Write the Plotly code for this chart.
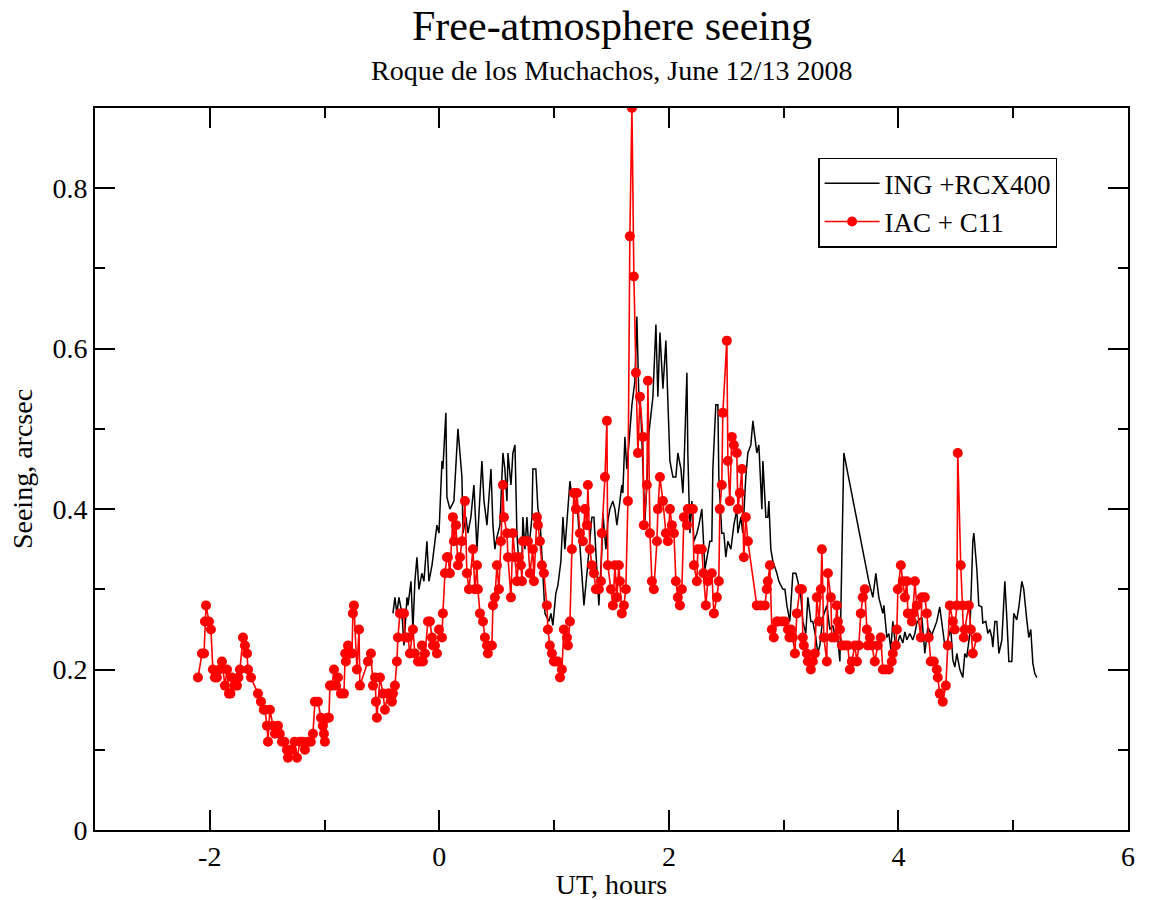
import plotly.graph_objects as go

# ING + RCX400 (black line)
ing_ut = [-0.404,-0.387,-0.370,-0.352,-0.326,-0.308,-0.282,-0.273,-0.247,-0.230,-0.213,-0.195,-0.178,-0.152,-0.134,-0.108,-0.091,-0.064,-0.038,-0.021,-0.003,
          0.023,0.031,0.057,0.066,0.092,0.127,0.162,0.197,0.206,0.232,0.249,0.275,0.301,0.328,0.371,0.389,0.415,0.450,0.467,0.484,0.502,0.528,0.554,0.571,0.589,0.598,
          0.624,0.641,0.659,0.676,0.693,0.720,0.728,0.746,0.763,0.780,0.807,0.815,0.841,0.859,0.876,0.902,0.920,0.937,0.955,0.972,0.989,1.015,1.033,1.059,1.077,1.094,
          1.112,1.138,1.155,1.181,1.199,1.216,1.242,1.260,1.286,1.303,1.329,1.347,1.373,1.390,1.416,1.425,1.451,1.468,1.486,1.512,1.530,1.547,1.573,1.590,1.599,1.617,
          1.634,1.660,1.678,1.704,1.721,1.739,1.756,1.774,1.791,1.808,1.826,1.861,1.887,1.904,1.922,1.948,1.974,1.991,2.009,2.035,2.061,2.078,2.105,2.122,2.131,2.157,
          2.165,2.183,2.200,2.218,2.244,2.261,2.287,2.314,2.331,2.357,2.374,2.383,2.409,2.427,2.435,2.461,2.479,2.496,2.514,2.540,2.566,2.592,2.601,2.627,2.644,2.670,
          2.688,2.714,2.732,2.749,2.766,2.784,2.810,2.819,2.845,2.862,2.871,2.888,2.906,2.941,2.958,2.993,3.011,3.028,3.054,3.080,3.106,3.124,3.150,3.167,3.193,3.211,
          3.237,3.254,3.280,3.298,3.315,3.341,3.376,3.402,3.428,3.455,3.472,3.490,3.507,3.524,3.742,3.777,3.803,3.829,3.864,3.873,3.899,3.916,3.934,3.951,3.969,3.986,
          4.012,4.038,4.056,4.073,4.099,4.125,4.143,4.160,4.178,4.204,4.230,4.256,4.291,4.317,4.334,4.360,4.386,4.404,4.430,4.456,4.474,4.491,4.509,4.535,4.561,4.578,
          4.595,4.622,4.648,4.657,4.683,4.700,4.726,4.735,4.761,4.779,4.796,4.814,4.822,4.840,4.857,4.875,4.901,4.927,4.945,4.962,4.988,5.005,5.031,5.049,5.075,5.092,
          5.118,5.136,5.153,5.171,5.188,5.206]
ing_seeing = [0.27,0.29,0.27,0.29,0.27,0.23,0.29,0.28,0.31,0.25,0.31,0.34,0.30,0.32,0.31,0.36,0.31,0.33,0.36,0.38,0.37,
              0.46,0.45,0.52,0.415,0.40,0.41,0.50,0.44,0.37,0.39,0.37,0.39,0.43,0.35,0.46,0.41,0.38,0.45,0.38,0.35,0.365,0.38,0.47,0.45,0.41,0.47,
              0.43,0.47,0.48,0.37,0.33,0.34,0.39,0.35,0.39,0.35,0.39,0.45,0.45,0.40,0.39,0.32,0.27,0.265,0.26,0.27,0.255,0.295,0.305,0.335,0.39,0.35,
              0.39,0.435,0.415,0.425,0.41,0.37,0.32,0.28,0.32,0.345,0.39,0.39,0.33,0.28,0.35,0.395,0.35,0.385,0.40,0.41,0.40,0.38,0.41,0.43,0.42,0.49,
              0.45,0.50,0.53,0.56,0.64,0.535,0.52,0.45,0.385,0.43,0.495,0.54,0.63,0.54,0.62,0.55,0.61,0.535,0.46,0.44,0.44,0.47,0.45,0.42,0.45,0.57,
              0.47,0.37,0.41,0.36,0.37,0.38,0.40,0.325,0.34,0.36,0.36,0.45,0.53,0.53,0.44,0.37,0.37,0.34,0.36,0.35,0.38,0.40,0.37,0.39,0.37,0.44,
              0.47,0.48,0.51,0.49,0.47,0.48,0.40,0.46,0.39,0.39,0.41,0.35,0.335,0.32,0.31,0.30,0.30,0.28,0.26,0.32,0.32,0.31,0.29,0.26,0.245,0.29,
              0.26,0.26,0.24,0.22,0.23,0.265,0.28,0.25,0.255,0.237,0.237,0.21,0.365,0.47,0.31,0.29,0.32,0.29,0.27,0.28,0.24,0.245,0.225,0.26,0.237,0.228,
              0.243,0.233,0.247,0.237,0.245,0.237,0.245,0.258,0.262,0.265,0.22,0.253,0.243,0.253,0.26,0.278,0.253,0.23,0.237,0.252,0.212,0.203,0.22,0.20,0.19,0.22,
              0.215,0.245,0.36,0.37,0.325,0.28,0.278,0.258,0.26,0.245,0.25,0.24,0.228,0.26,0.26,0.22,0.237,0.31,0.262,0.21,0.21,0.27,0.262,0.278,0.31,0.30,
              0.262,0.24,0.25,0.208,0.195,0.19]

# IAC + C11 (red line with markers)
iac_ut = [-2.103,-2.068,-2.050,-2.042,-2.033,-2.007,-1.990,-1.973,-1.955,-1.938,-1.915,-1.894,-1.868,-1.850,-1.833,-1.820,-1.807,-1.785,-1.763,-1.750,-1.737,
          -1.711,-1.694,-1.676,-1.667,-1.641,-1.580,-1.554,-1.530,-1.519,-1.502,-1.493,-1.476,-1.450,-1.432,-1.406,-1.390,-1.371,-1.350,-1.328,-1.319,-1.300,
          -1.284,-1.262,-1.240,-1.214,-1.190,-1.171,-1.145,-1.120,-1.101,-1.084,-1.058,-1.031,-1.015,-1.005,-0.997,-0.975,-0.962,-0.953,-0.935,-0.918,-0.900,
          -0.883,-0.857,-0.831,-0.820,-0.814,-0.796,-0.775,-0.761,-0.753,-0.744,-0.718,-0.700,-0.692,-0.622,-0.596,-0.578,-0.560,-0.552,-0.544,-0.517,-0.491,
          -0.474,-0.448,-0.430,-0.413,-0.404,-0.387,-0.370,-0.361,-0.343,-0.320,-0.308,-0.300,-0.273,-0.256,-0.230,-0.213,-0.186,-0.165,-0.152,-0.143,-0.125,
          -0.099,-0.082,-0.064,-0.056,-0.038,-0.021,-0.003,0.023,0.031,0.049,0.066,0.075,0.092,0.118,0.127,0.145,0.162,0.180,0.197,0.223,0.240,0.258,0.293,
          0.310,0.328,0.336,0.354,0.380,0.397,0.415,0.423,0.458,0.467,0.484,0.502,0.519,0.537,0.554,0.563,0.589,0.598,0.624,0.641,0.659,0.676,0.693,0.711,
          0.720,0.728,0.750,0.772,0.789,0.815,0.824,0.850,0.859,0.876,0.894,0.911,0.937,0.946,0.963,0.981,0.998,1.015,1.033,1.051,1.068,1.085,1.112,1.120,
          1.138,1.155,1.172,1.190,1.199,1.225,1.251,1.268,1.286,1.294,1.312,1.329,1.347,1.364,1.373,1.390,1.408,1.416,1.443,1.460,1.468,1.495,1.512,1.530,
          1.547,1.564,1.573,1.590,1.608,1.625,1.643,1.660,1.678,1.695,1.713,1.730,1.748,1.774,1.782,1.808,1.817,1.835,1.852,1.869,1.896,1.904,1.922,1.948,
          1.974,1.991,2.009,2.026,2.044,2.061,2.078,2.096,2.113,2.131,2.157,2.165,2.190,2.209,2.218,2.244,2.252,2.287,2.300,2.322,2.339,2.374,2.392,2.418,
          2.435,2.444,2.461,2.470,2.505,2.514,2.531,2.548,2.566,2.592,2.601,2.618,2.636,2.653,2.670,2.688,2.766,2.801,2.836,2.853,2.862,2.880,2.897,2.914,
          2.941,2.950,2.985,3.011,3.037,3.050,3.063,3.080,3.098,3.115,3.141,3.159,3.167,3.176,3.202,3.211,3.237,3.254,3.272,3.289,3.307,3.324,3.333,3.350,
          3.376,3.385,3.411,3.420,3.446,3.463,3.472,3.490,3.507,3.533,3.559,3.577,3.594,3.620,3.638,3.655,3.672,3.690,3.707,3.725,3.733,3.751,3.768,3.794,
          3.820,3.846,3.864,3.890,3.916,3.942,3.951,3.977,3.986,3.995,4.021,4.038,4.056,4.073,4.082,4.117,4.125,4.143,4.160,4.195,4.204,4.230,4.247,4.264,
          4.282,4.308,4.334,4.343,4.360,4.386,4.413,4.430,4.448,4.474,4.491,4.509,4.517,4.543,4.561,4.569,4.578,4.613,4.631,4.648,4.683]
iac_seeing = [0.19,0.22,0.22,0.26,0.28,0.26,0.25,0.20,0.19,0.19,0.20,0.21,0.18,0.20,0.17,0.17,0.19,0.18,0.18,0.19,0.20,
              0.24,0.23,0.22,0.20,0.19,0.17,0.16,0.15,0.15,0.13,0.11,0.15,0.13,0.12,0.13,0.12,0.11,0.11,0.10,0.09,0.10,
              0.10,0.11,0.09,0.11,0.11,0.10,0.11,0.11,0.12,0.16,0.16,0.14,0.13,0.12,0.11,0.14,0.14,0.18,0.18,0.20,0.18,
              0.19,0.17,0.17,0.22,0.21,0.23,0.22,0.22,0.27,0.28,0.20,0.25,0.18,0.21,0.22,0.18,0.19,0.16,0.14,0.19,0.17,
              0.15,0.17,0.17,0.16,0.17,0.18,0.21,0.24,0.27,0.27,0.27,0.24,0.24,0.22,0.25,0.22,0.21,0.21,0.23,0.21,0.22,
              0.26,0.26,0.24,0.23,0.23,0.22,0.25,0.24,0.27,0.32,0.34,0.34,0.32,0.39,0.36,0.38,0.33,0.34,0.36,0.41,0.32,0.30,0.35,
              0.30,0.33,0.30,0.27,0.26,0.24,0.23,0.22,0.23,0.28,0.29,0.33,0.30,0.36,0.43,0.39,0.37,0.34,0.29,0.37,0.34,0.31,0.34,0.33,
              0.31,0.36,0.36,0.36,0.32,0.35,0.31,0.39,0.38,0.36,0.33,0.32,0.28,0.25,0.23,0.22,0.21,0.21,0.21,0.19,0.20,0.25,0.24,0.23,
              0.26,0.35,0.42,0.40,0.42,0.37,0.36,0.40,0.38,0.43,0.35,0.33,0.32,0.30,0.30,0.30,0.31,0.37,0.44,0.51,0.33,0.30,0.28,0.33,
              0.29,0.33,0.31,0.27,0.28,0.30,0.41,0.74,0.90,0.69,0.57,0.47,0.54,0.49,0.38,0.43,0.56,0.37,0.31,0.30,0.36,0.40,0.44,0.41,
              0.37,0.36,0.40,0.38,0.37,0.31,0.29,0.28,0.30,0.39,0.38,0.40,0.40,0.40,0.33,0.31,0.35,0.35,0.32,0.28,0.31,0.32,0.27,0.29,
              0.31,0.40,0.43,0.52,0.61,0.46,0.41,0.49,0.48,0.47,0.40,0.42,0.45,0.34,0.39,0.36,0.28,0.28,0.28,0.30,0.31,0.33,0.25,0.24,
              0.26,0.26,0.26,0.26,0.25,0.24,0.25,0.24,0.22,0.27,0.30,0.30,0.24,0.23,0.22,0.21,0.20,0.21,0.22,0.29,0.26,0.30,0.35,0.24,
              0.21,0.32,0.29,0.24,0.24,0.28,0.26,0.25,0.23,0.23,0.23,0.20,0.21,0.23,0.21,0.23,0.27,0.29,0.30,0.25,0.23,0.24,0.23,0.21,
              0.23,0.24,0.20,0.20,0.20,0.21,0.22,0.23,0.25,0.30,0.33,0.31,0.29,0.31,0.27,0.26,0.27,0.31,0.28,0.24,0.29,0.29,0.27,0.24,
              0.21,0.21,0.20,0.19,0.17,0.16,0.18,0.23,0.28,0.26,0.25,0.28,0.47,0.33,0.28,0.24,0.25,0.28,0.25,0.22,0.24]

x_tick_vals = [-2, 0, 2, 4, 6]
x_tick_text = ["-2", "0", "2", "4", "6"]
y_tick_vals = [0, 0.2, 0.4, 0.6, 0.8]
y_tick_text = ["0", "0.2", "0.4", "0.6", "0.8"]

FONT = "Liberation Serif, Times New Roman, serif"

fig = go.Figure()
fig.add_trace(go.Scatter(x=ing_ut, y=ing_seeing, mode="lines", name="ING +RCX400",
                         line=dict(color="black", width=1.5)))
fig.add_trace(go.Scatter(x=iac_ut, y=iac_seeing, mode="lines+markers", name="IAC + C11",
                         line=dict(color="#ff0000", width=1.6),
                         marker=dict(color="#ff0000", size=10)))

axis_common = dict(showline=True, linecolor="black", linewidth=2, mirror="allticks",
                   ticks="inside", ticklen=20, tickwidth=2, tickcolor="black",
                   showgrid=False, zeroline=False, automargin=False,
                   tickfont=dict(family=FONT, size=28, color="black"))

fig.update_xaxes(range=[-3, 6], tickvals=x_tick_vals, ticktext=x_tick_text,
                 minor=dict(dtick=1, tick0=0, ticks="inside", ticklen=10, tickwidth=2, tickcolor="black"),
                 title=dict(text="UT, hours", font=dict(family=FONT, size=28, color="black"), standoff=8),
                 **axis_common)
fig.update_yaxes(range=[0, 0.9], tickvals=y_tick_vals, ticktext=y_tick_text,
                 minor=dict(dtick=0.1, tick0=0, ticks="inside", ticklen=10, tickwidth=2, tickcolor="black"),
                 title=dict(text="Seeing, arcsec", font=dict(family=FONT, size=28, color="black"), standoff=12),
                 **axis_common)

fig.update_layout(
    width=1149, height=900,
    margin=dict(l=95, r=21, t=108, b=70),
    plot_bgcolor="white", paper_bgcolor="white",
    font=dict(family=FONT, color="black"),
    showlegend=True,
    legend=dict(x=0.70, y=0.931, xanchor="left", yanchor="top",
                bordercolor="black", borderwidth=1.5, bgcolor="white",
                font=dict(family=FONT, size=27, color="black"),
                itemwidth=55, tracegroupgap=0),
    annotations=[
        dict(text="Free-atmosphere seeing", x=0.5, y=1.113, xref="paper", yref="paper",
             xanchor="center", yanchor="middle", showarrow=False,
             font=dict(family=FONT, size=42, color="black")),
        dict(text="Roque de los Muchachos, June 12/13 2008", x=0.5, y=1.052, xref="paper", yref="paper",
             xanchor="center", yanchor="middle", showarrow=False,
             font=dict(family=FONT, size=28, color="black")),
    ],
)

# remove the default page margin so the figure fills the window exactly
fig.write_html("out.html", config={"displayModeBar": False},
               post_script="document.body.style.margin='0';document.body.style.overflow='hidden';")
